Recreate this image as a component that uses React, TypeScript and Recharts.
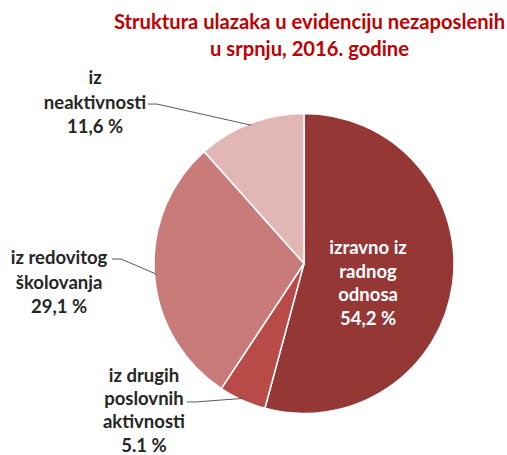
import React from 'react';
import { PieChart, Pie, Cell } from 'recharts';

const categories = ['izravno iz radnog odnosa', 'iz drugih poslovnih aktivnosti', 'iz redovitog školovanja', 'iz neaktivnosti'];
const values = [54.2, 5.1, 29.1, 11.6];
const labelLines = [
  ['izravno iz', 'radnog', 'odnosa', '54,2 %'],
  ['iz drugih', 'poslovnih', 'aktivnosti', '5.1 %'],
  ['iz redovitog', 'školovanja', '29,1 %'],
  ['iz', 'neaktivnosti', '11,6 %'],
];
const colors = ['#953735', '#B84A48', '#C97B7A', '#E1B7B6'];
const titleLines = ['Struktura ulazaka u evidenciju nezaposlenih', 'u srpnju, 2016. godine'];

const data = categories.map((name, i) => ({ name, value: values[i] }));

const FONT = 'Lato, "Open Sans", sans-serif';
const RAD = Math.PI / 180;

// label layout: text centre offsets relative to pie centre (in units of radius), leader start
const layout = [
  { dx: 0.427, dy: 0.127, inside: true, lx: 0, ly: 0, lh: 23.7 },
  { dx: -1.067, dy: 0.975, inside: false, lx: -0.78, ly: 0.923, lh: 23.2 },
  { dx: -1.633, dy: 0.123, inside: false, lx: -1.28, ly: -0.03, lh: 24.5 },
  { dx: -1.393, dy: -1.08, inside: false, lx: -1.04, ly: -1.063, lh: 24.5 },
];

const renderLabel = (props: any) => {
  const { cx, cy, midAngle, outerRadius, index } = props;
  const L = layout[index];
  const lines = labelLines[index];
  const lh = L.lh;
  const tx = cx + L.dx * outerRadius;
  const ty0 = cy + L.dy * outerRadius - ((lines.length - 1) * lh) / 2;
  const pr = outerRadius - 2;
  const px = cx + pr * Math.cos(-midAngle * RAD);
  const py = cy + pr * Math.sin(-midAngle * RAD);
  const sx = cx + L.lx * outerRadius;
  const sy = cy + L.ly * outerRadius;
  return (
    <g key={`lbl-${index}`}>
      {!L.inside && (
        <polyline
          points={`${sx},${sy} ${sx + 9},${sy} ${px},${py}`}
          stroke="#595959"
          strokeWidth={1}
          fill="none"
        />
      )}
      <text
        x={tx}
        y={ty0}
        textAnchor="middle"
        dominantBaseline="central"
        fill={L.inside ? '#ffffff' : '#262626'}
        fontFamily={FONT}
        fontWeight={700}
        fontSize={18.5}
      >
        {lines.map((t, i) => (
          <tspan key={i} x={tx} y={ty0 + i * lh}>
            {t}
          </tspan>
        ))}
      </text>
    </g>
  );
};

export default function App() {
  return (
    <div style={{ position: 'absolute', left: 0, top: 0, width: 507, height: 455, background: '#fff' }}>
      <div
        style={{
          position: 'absolute',
          left: 101,
          top: 8,
          width: 417,
          textAlign: 'center',
          color: '#C00000',
          fontFamily: FONT,
          fontWeight: 700,
          fontSize: 20.2,
          lineHeight: '27px',
          whiteSpace: 'nowrap',
        }}
      >
        {titleLines.map((t, i) => (
          <div key={i}>{t}</div>
        ))}
      </div>
      <PieChart width={507} height={455}>
        <Pie
          data={data}
          dataKey="value"
          nameKey="name"
          cx={299}
          cy={258.5}
          outerRadius={150}
          startAngle={90}
          endAngle={-270}
          stroke="#ffffff"
          strokeWidth={1.5}
          label={renderLabel}
          labelLine={false}
          isAnimationActive={false}
        >
          {data.map((d, i) => (
            <Cell key={d.name} fill={colors[i]} />
          ))}
        </Pie>
      </PieChart>
    </div>
  );
}
